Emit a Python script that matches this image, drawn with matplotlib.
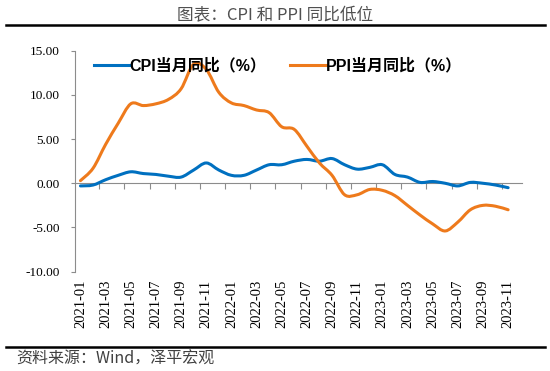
import numpy as np
import matplotlib
matplotlib.use("Agg")
import matplotlib.pyplot as plt
from matplotlib.path import Path
from matplotlib.patches import PathPatch
from matplotlib.lines import Line2D

plt.rcParams["font.family"] = ["Liberation Serif", "DejaVu Serif"]

# 月度数据 2021-01 ~ 2023-11
months = [f"{y}-{m:02d}" for y in (2021, 2022, 2023) for m in range(1, 13)][:35]
cpi = [-0.3, -0.2, 0.4, 0.9, 1.3, 1.1, 1.0, 0.8, 0.7, 1.5, 2.3, 1.5,
       0.9, 0.9, 1.5, 2.1, 2.1, 2.5, 2.7, 2.5, 2.8, 2.1, 1.6, 1.8,
       2.1, 1.0, 0.7, 0.1, 0.2, 0.0, -0.3, 0.1, 0.0, -0.2, -0.5]
ppi = [0.3, 1.7, 4.4, 6.8, 9.0, 8.8, 9.0, 9.5, 10.7, 13.5, 12.9, 10.3,
       9.1, 8.8, 8.3, 8.0, 6.4, 6.1, 4.2, 2.3, 0.9, -1.3, -1.3, -0.7,
       -0.8, -1.4, -2.5, -3.6, -4.6, -5.4, -4.4, -3.0, -2.5, -2.6, -3.0]
series_names = ["CPI当月同比（%）", "PPI当月同比（%）"]
y_ticks = [-10, -5, 0, 5, 10, 15]

BLUE = "#0070C0"
ORANGE = "#EE7A1C"
GRAY = "#8C8C8C"
CJK = ["Noto Sans CJK SC", "DejaVu Sans"]


def smooth_path(x, y):
    # 和 Excel 平滑线一样的 Bezier 曲线
    pts = np.column_stack([x, y]).astype(float)
    n = len(pts)
    verts = [pts[0]]
    codes = [Path.MOVETO]
    for i in range(n - 1):
        p0 = pts[max(i - 1, 0)]
        p1 = pts[i]
        p2 = pts[i + 1]
        p3 = pts[min(i + 2, n - 1)]
        verts += [p1 + (p2 - p0) / 6, p2 - (p3 - p1) / 6, p2]
        codes += [Path.CURVE4] * 3
    return Path(verts, codes)


fig = plt.figure(figsize=(5.5, 3.71), dpi=100)
ax = fig.add_axes([0.136, 0.268, 0.813, 0.595])

x = np.arange(len(months))
for vals, color in ((cpi, BLUE), (ppi, ORANGE)):
    ax.add_patch(PathPatch(smooth_path(x, vals), facecolor="none",
                           edgecolor=color, lw=2.2, capstyle="round"))

ax.set_xlim(-0.45, 35.1)
ax.set_ylim(-10, 15)

# y 轴
ax.set_yticks(y_ticks)
ax.set_yticklabels([f"{v:.2f}" for v in y_ticks], fontsize=9.5)
ax.tick_params(axis="y", direction="out", length=3, color=GRAY, pad=8)
for s in ("top", "right", "bottom"):
    ax.spines[s].set_visible(False)
ax.spines["left"].set_color(GRAY)

# x 轴标签放在底部
ax.set_xticks(x[::2])
ax.set_xticklabels(months[::2], rotation=90, fontsize=10.5)
ax.tick_params(axis="x", length=0, pad=6)

# 0 轴线和刻度
sec = ax.secondary_xaxis((0 - (-10)) / 25)
sec.set_xticks(np.arange(1.5, 34, 2))
sec.set_xticklabels([])
sec.tick_params(direction="out", length=4, color=GRAY)
sec.spines["bottom"].set_color(GRAY)

handles = [Line2D([], [], color=BLUE, lw=2.2), Line2D([], [], color=ORANGE, lw=2.2)]
ax.legend(handles, series_names, loc="upper left", ncol=2, frameon=False,
          bbox_to_anchor=(0.01, 1.035), handlelength=2.2, handletextpad=0.05,
          columnspacing=1.5,
          prop={"family": ["Liberation Sans", "Noto Sans CJK SC"], "weight": "bold", "size": 11.5})

# 标题和来源
fig.text(0.5, 1 - 16 / 371, "图表：CPI 和 PPI 同比低位", ha="center", va="center",
         family=CJK, fontsize=12, color="#505050")
fig.add_artist(Line2D([0.01, 0.99], [1 - 25 / 371] * 2, transform=fig.transFigure,
                      color="black", lw=1.8))
fig.add_artist(Line2D([0.01, 0.99], [1 - 347 / 371] * 2, transform=fig.transFigure,
                      color="black", lw=1.8))
fig.text(0.03, 1 - 359 / 371, "资料来源：Wind，泽平宏观", ha="left", va="center",
         family=CJK, fontsize=11.5, color="#404040")

fig.savefig("out.png", dpi=100)
